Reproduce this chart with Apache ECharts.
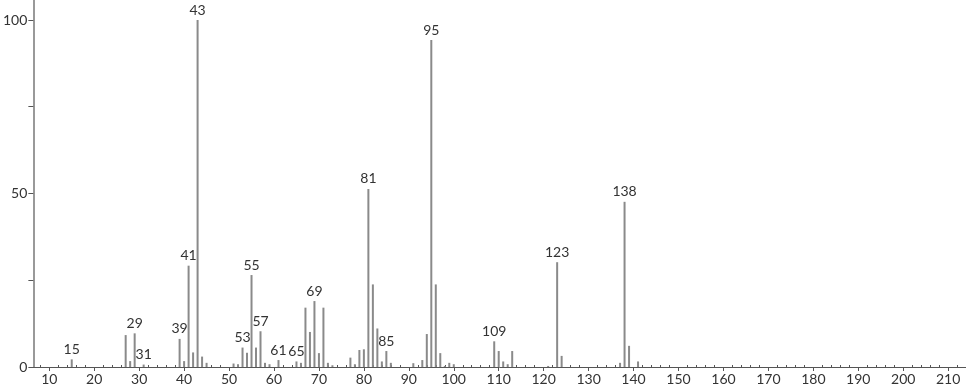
<!DOCTYPE html>
<html><head><meta charset="utf-8">
<script src="https://cdn.jsdelivr.net/npm/echarts@6/dist/echarts.min.js"></script>
<style>html,body{margin:0;padding:0;background:#fff}#c{width:966px;height:389px}</style>
</head><body><div id="c"></div>
<script>
const mz = [15,27,28,29,31,39,40,41,42,43,44,45,51,52,53,54,55,56,57,58,59,61,65,66,67,68,69,70,71,72,73,77,78,79,80,81,82,83,84,85,86,91,93,94,95,96,97,98,99,100,109,110,111,112,113,121,123,124,137,138,139,141];
const intensity = [2.2,9.2,1.7,9.7,0.7,8.1,1.7,29.2,4.2,100,3.0,1.2,1.0,0.8,5.6,4.1,26.5,5.6,10.3,1.2,0.8,2.0,1.6,1.2,17.1,10.1,19.0,4.0,17.1,1.2,0.5,2.7,0.8,4.9,5.1,51.3,23.8,11.1,1.6,4.6,1.2,1.1,2.0,9.5,94.2,23.8,4.0,0.3,1.2,0.8,7.4,4.6,1.6,0.8,4.6,0.3,30.2,3.2,1.2,47.6,6.1,1.6];
const labeled = [15,29,31,39,41,43,53,55,57,61,65,69,81,85,95,109,123,138];
const xTickLabels = [10,20,30,40,50,60,70,80,90,100,110,120,130,140,150,160,170,180,190,200,210];
const yTickLabels = [0,50,100];
const yTicks = [0,25,50,75,100];

const minorX = [];
for (let v = 8; v <= 214; v += 2) if (v % 10 !== 0) minorX.push(v);

const data = mz.map((m, i) => ({
  value: [m, intensity[i]],
  label: { show: labeled.indexOf(m) >= 0 }
}));

const font = 'Lato, "Open Sans", sans-serif';
const chart = echarts.init(document.getElementById('c'));
chart.setOption({
  animation: false,
  grid: { left: 29, right: 0, top: 0, bottom: 22 },
  xAxis: [{
    type: 'value', min: 6.46, max: 213.97,
    axisLine: { show: true, lineStyle: { color: '#555', width: 1 } },
    axisTick: { show: true, customValues: xTickLabels, length: 4, lineStyle: { color: '#555' } },
    axisLabel: { customValues: xTickLabels, color: '#333', fontSize: 14, fontFamily: font, margin: 5 },
    splitLine: { show: false }
  }, {
    type: 'value', min: 6.46, max: 213.97, position: 'bottom',
    axisLine: { show: false },
    axisTick: { show: true, inside: true, customValues: minorX, length: 2, lineStyle: { color: '#555' } },
    axisLabel: { show: false }, splitLine: { show: false }
  }],
  yAxis: {
    type: 'value', min: 0, max: 105.76,
    axisLine: { show: true, lineStyle: { color: '#999', width: 2 } },
    axisTick: { show: true, customValues: yTicks, length: 5, lineStyle: { color: '#555' } },
    axisLabel: { customValues: yTickLabels, color: '#333', fontSize: 14, fontFamily: font, margin: 6 },
    splitLine: { show: false }
  },
  series: [{
    type: 'bar', xAxisIndex: 0, barWidth: 2,
    itemStyle: { color: '#8a8a8a' },
    label: { position: 'top', distance: 3, color: '#333', fontSize: 14, fontFamily: font,
      formatter: p => String(p.value[0]) },
    data: data
  }]
});
</script></body></html>
